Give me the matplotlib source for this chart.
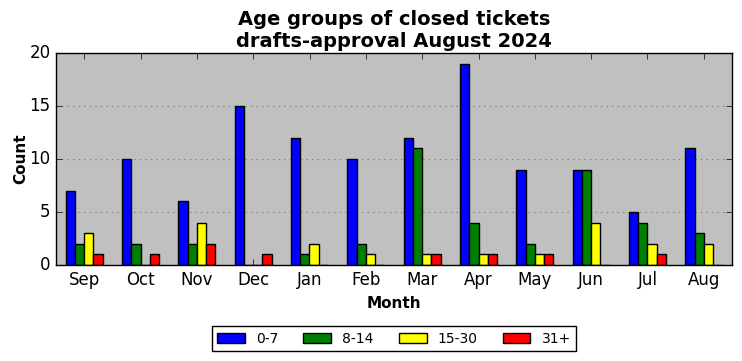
import matplotlib
matplotlib.use("Agg")
import matplotlib.pyplot as plt
import numpy as np

months = ["Sep", "Oct", "Nov", "Dec", "Jan", "Feb", "Mar", "Apr", "May", "Jun", "Jul", "Aug"]
g0_7 = [7, 10, 6, 15, 12, 10, 12, 19, 9, 9, 5, 11]
g8_14 = [2, 2, 2, 0, 1, 2, 11, 4, 2, 9, 4, 3]
g15_30 = [3, 0, 4, 0, 2, 1, 1, 1, 1, 4, 2, 2]
g31 = [1, 1, 2, 1, 0, 0, 1, 1, 1, 0, 1, 0]
series = [("0-7", g0_7, "blue"), ("8-14", g8_14, "green"),
          ("15-30", g15_30, "yellow"), ("31+", g31, "red")]

plt.style.use("classic")
plt.rcParams["font.family"] = "DejaVu Sans"

fig = plt.figure(figsize=(7.42, 3.61), dpi=100, facecolor="white")
ax = fig.add_axes([56/742, 1-265/361, (732-56)/742, (265-53)/361])
ax.set_facecolor("#c0c0c0")

x = np.arange(len(months))
w = 0.165
for i, (lab, vals, col) in enumerate(series):
    ax.bar(x + (i - 1.5) * w, vals, w, color=col, edgecolor="black",
           linewidth=1, label=lab, align="center")

ax.set_xlim(-0.5, 11.5)
ax.set_ylim(0, 20)
ax.set_yticks([0, 5, 10, 15, 20])
ax.set_xticks(x)
ax.set_xticklabels(months)
ax.yaxis.grid(True, linestyle=":", color="gray", linewidth=0.8)
ax.set_axisbelow(True)
ax.tick_params(labelsize=12)
ax.set_xlabel("Month", fontweight="bold", fontsize=11)
ax.set_ylabel("Count", fontweight="bold", fontsize=11, labelpad=1)
ax.set_title("Age groups of closed tickets\ndrafts-approval August 2024",
             fontweight="bold", fontsize=14, y=0.995)
ax.legend(loc="upper center", bbox_to_anchor=(0.5, -0.256), ncol=4,
          fontsize=10, frameon=True, fancybox=False, columnspacing=1.8)

fig.savefig("out.png", dpi=100, facecolor="white")
